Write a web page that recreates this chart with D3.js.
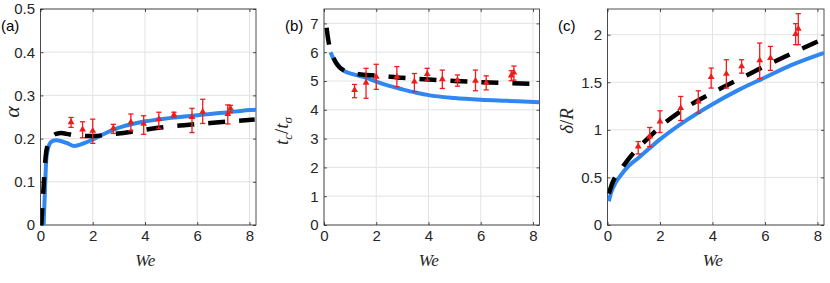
<!DOCTYPE html>
<html>
<head>
<meta charset="utf-8">
<script src="https://d3js.org/d3.v7.min.js"></script>
<style>
  body { margin: 0; background: #fff; }
  .tick text { font-family: "Liberation Sans", Arial, sans-serif; font-size: 15px; fill: #262626; }
  .lbl { font-family: "Liberation Serif", "Times New Roman", serif; font-style: italic; fill: #262626; }
  .tag { font-family: "Liberation Sans", Arial, sans-serif; font-size: 15px; fill: #000; }
</style>
</head>
<body>
<svg id="chart" width="830" height="283"></svg>
<script>
// experimental We values (shared by all three panels)
const weExp = [1.17, 1.61, 2.0, 2.79, 3.46, 3.95, 4.53, 5.11, 5.8, 6.21, 7.17, 7.27];

// (a) alpha
const alphaExp = [0.238, 0.221, 0.218, 0.224, 0.238, 0.234, 0.245, 0.255, 0.250, 0.262, 0.257, 0.270];
const alphaLo  = [0.226, 0.202, 0.189, 0.212, 0.218, 0.210, 0.224, 0.249, 0.214, 0.235, 0.234, 0.261];
const alphaHi  = [0.249, 0.239, 0.245, 0.233, 0.257, 0.253, 0.261, 0.261, 0.270, 0.291, 0.278, 0.277];
const weSimA    = [0.12, 0.17, 0.22, 0.27, 0.35, 0.45, 0.6, 0.8, 1.0, 1.3, 1.7, 2.0, 2.4, 2.8, 3.2, 3.6, 4.0, 4.5, 5.0, 5.5, 6.0, 6.5, 7.0, 7.5, 8.0, 8.25];
const alphaSim  = [0.0, 0.08, 0.15, 0.172, 0.188, 0.194, 0.196, 0.194, 0.19, 0.183, 0.19, 0.198, 0.21, 0.221, 0.229, 0.235, 0.240, 0.244, 0.248, 0.251, 0.254, 0.257, 0.260, 0.263, 0.266, 0.267];
const weThA     = [0.03, 0.08, 0.13, 0.2, 0.3, 0.45, 0.6, 0.8, 1.0, 1.4, 2.0, 2.7, 3.5, 4.5, 5.5, 6.5, 7.5, 8.2];
const alphaTh   = [0.0, 0.05, 0.1, 0.16, 0.19, 0.205, 0.211, 0.213, 0.211, 0.207, 0.206, 0.210, 0.216, 0.225, 0.231, 0.236, 0.241, 0.244];

// (b) t_c / t_sigma
const tcExp = [4.69, 4.94, 5.15, 5.15, 4.98, 5.24, 5.06, 5.03, 5.01, 4.94, 5.19, 5.29];
const tcLo  = [4.42, 4.40, 4.71, 4.80, 4.63, 5.03, 4.74, 4.82, 4.66, 4.69, 5.01, 5.03];
const tcHi  = [4.88, 5.44, 5.58, 5.50, 5.26, 5.44, 5.38, 5.21, 5.38, 5.18, 5.36, 5.52];
const weSimB = [0.25, 0.35, 0.5, 0.75, 1.1, 1.6, 2.0, 2.5, 3.0, 3.5, 4.0, 5.0, 6.0, 7.0, 8.25];
const tcSim  = [6.0, 5.8, 5.6, 5.36, 5.24, 5.12, 4.98, 4.83, 4.71, 4.6, 4.51, 4.41, 4.35, 4.31, 4.26];
const weThB  = [0.1, 0.15, 0.2, 0.3, 0.45, 0.6, 0.8, 1.0, 1.5, 2.0, 3.0, 4.0, 5.0, 6.0, 7.0, 8.25];
const tcTh   = [6.85, 6.5, 6.25, 5.95, 5.65, 5.47, 5.35, 5.29, 5.22, 5.19, 5.11, 5.05, 5.0, 4.96, 4.93, 4.9];

// (c) delta / R
const deltaExp = [0.825, 0.93, 1.088, 1.228, 1.298, 1.554, 1.589, 1.667, 1.73, 1.754, 2.007, 2.063];
const deltaLo  = [0.747, 0.825, 0.972, 1.098, 1.175, 1.439, 1.439, 1.596, 1.54, 1.625, 1.895, 1.895];
const deltaHi  = [0.877, 1.025, 1.2, 1.351, 1.41, 1.649, 1.737, 1.737, 1.912, 1.877, 2.116, 2.221];
const weSimC   = [0.05, 0.15, 0.3, 0.5, 0.8, 1.2, 2.0, 3.0, 4.0, 5.0, 6.0, 7.0, 8.25];
const deltaSim = [0.25, 0.35, 0.44, 0.52, 0.62, 0.71, 0.9, 1.1, 1.27, 1.42, 1.55, 1.68, 1.81];
const weThC    = [0.05, 0.2, 0.5, 1.0, 1.5, 2.0, 3.0, 4.0, 5.0, 6.0, 7.0, 8.25];
const deltaTh  = [0.33, 0.45, 0.58, 0.76, 0.90, 1.03, 1.235, 1.39, 1.53, 1.67, 1.80, 1.96];

const xTicks = [0, 2, 4, 6, 8];
const yTicksA = [0, 0.1, 0.2, 0.3, 0.4, 0.5];
const yTicksB = [0, 1, 2, 3, 4, 5, 6, 7];
const yTicksC = [0, 0.5, 1, 1.5, 2];

const svg = d3.select('#chart');
const plotTop = 9, plotBottom = 225;
const blue = '#3087ef', red = '#f01c1c', ink = '#262626';

function panel(p) {
  const x = d3.scaleLinear().domain([0, 8.25]).range([p.left, p.right]);
  const y = d3.scaleLinear().domain([0, p.ymax]).range([plotBottom, plotTop]);
  const g = svg.append('g');

  // grid
  g.append('g').selectAll('line').data(xTicks).join('line')
    .attr('x1', d => x(d)).attr('x2', d => x(d)).attr('y1', plotTop).attr('y2', plotBottom)
    .attr('stroke', '#e3e3e3').attr('stroke-width', 1);
  g.append('g').selectAll('line').data(p.yTicks).join('line')
    .attr('x1', p.left).attr('x2', p.right).attr('y1', d => y(d)).attr('y2', d => y(d))
    .attr('stroke', '#e3e3e3').attr('stroke-width', 1);

  // axes with inward ticks
  const fmt = d => String(d);
  const ax = [
    [d3.axisBottom(x).tickValues(xTicks).tickFormat(fmt), `translate(0,${plotBottom})`],
    [d3.axisTop(x).tickValues(xTicks).tickFormat(''), `translate(0,${plotTop})`],
    [d3.axisLeft(y).tickValues(p.yTicks).tickFormat(fmt), `translate(${p.left},0)`],
    [d3.axisRight(y).tickValues(p.yTicks).tickFormat(''), `translate(${p.right},0)`]
  ];
  ax.forEach(([a, tr]) => {
    const s = g.append('g').attr('transform', tr).call(a.tickSize(-3).tickPadding(5.5));
    s.select('.domain').remove();
    s.selectAll('.tick line').attr('stroke', ink).attr('stroke-width', 0.8);
  });
  g.append('rect').attr('x', p.left).attr('y', plotTop)
    .attr('width', p.right - p.left).attr('height', plotBottom - plotTop)
    .attr('fill', 'none').attr('stroke', ink).attr('stroke-width', 0.8);

  const line = d3.line().x(d => x(d[0])).y(d => y(d[1])).curve(d3.curveMonotoneX);
  const clip = 'clip' + p.tag;
  svg.append('clipPath').attr('id', clip).append('rect')
    .attr('x', p.left).attr('y', plotTop).attr('width', p.right - p.left).attr('height', plotBottom - plotTop);
  const plot = g.append('g').attr('clip-path', `url(#${clip})`);

  plot.append('path').datum(d3.zip(p.simX, p.simY)).attr('d', line)
    .attr('fill', 'none').attr('stroke', blue).attr('stroke-width', 4);
  plot.append('path').datum(d3.zip(p.thX, p.thY)).attr('d', line)
    .attr('fill', 'none').attr('stroke', '#000').attr('stroke-width', 4.5)
    .attr('stroke-dasharray', '17,14');

  // error bars
  const eb = g.append('g').attr('stroke', red).attr('stroke-width', 1.3);
  weExp.forEach((w, i) => {
    const cx = x(w);
    eb.append('line').attr('x1', cx).attr('x2', cx).attr('y1', y(p.lo[i])).attr('y2', y(p.hi[i]));
    eb.append('line').attr('x1', cx - 2.6).attr('x2', cx + 2.6).attr('y1', y(p.lo[i])).attr('y2', y(p.lo[i]));
    eb.append('line').attr('x1', cx - 2.6).attr('x2', cx + 2.6).attr('y1', y(p.hi[i])).attr('y2', y(p.hi[i]));
  });
  g.append('g').selectAll('path').data(weExp).join('path')
    .attr('d', d3.symbol(d3.symbolTriangle, 20))
    .attr('transform', (w, i) => `translate(${x(w)},${y(p.val[i])})`)
    .attr('fill', red);

  // x label
  g.append('text').attr('class', 'lbl').attr('x', (p.left + p.right) / 2 - 3).attr('y', 266)
    .attr('text-anchor', 'middle').attr('font-size', 17).text('We');

  // y label
  const yl = g.append('text').attr('class', 'lbl').attr('text-anchor', 'middle')
    .attr('transform', `translate(${p.ylx},${p.yly}) rotate(-90)`).attr('font-size', p.ylSize);
  p.ylab(yl);

  g.append('text').attr('class', 'tag').attr('x', p.tagX).attr('y', 31).text(`(${p.tag})`);
}

panel({
  tag: 'a', left: 40.5, right: 256, ymax: 0.5, yTicks: yTicksA,
  val: alphaExp, lo: alphaLo, hi: alphaHi,
  simX: weSimA, simY: alphaSim, thX: weThA, thY: alphaTh,
  ylx: 19, yly: 112, ylSize: 22, tagX: 1,
  ylab: t => t.text('α')
});
panel({
  tag: 'b', left: 324, right: 539.5, ymax: 7.5, yTicks: yTicksB,
  val: tcExp, lo: tcLo, hi: tcHi,
  simX: weSimB, simY: tcSim, thX: weThB, thY: tcTh,
  ylx: 288, yly: 131, ylSize: 19, tagX: 285,
  ylab: t => {
    t.append('tspan').text('t');
    t.append('tspan').attr('font-size', 13).attr('dy', 4).text('c');
    t.append('tspan').attr('dy', -4).attr('font-style', 'normal').text('/');
    t.append('tspan').text('t');
    t.append('tspan').attr('font-size', 13).attr('dy', 4).text('σ');
  }
});
panel({
  tag: 'c', left: 607.5, right: 824, ymax: 2.27, yTicks: yTicksC,
  val: deltaExp, lo: deltaLo, hi: deltaHi,
  simX: weSimC, simY: deltaSim, thX: weThC, thY: deltaTh,
  ylx: 573, yly: 121, ylSize: 19, tagX: 558,
  ylab: t => {
    t.append('tspan').text('δ');
    t.append('tspan').attr('font-style', 'normal').text('/');
    t.append('tspan').text('R');
  }
});
</script>
</body>
</html>
